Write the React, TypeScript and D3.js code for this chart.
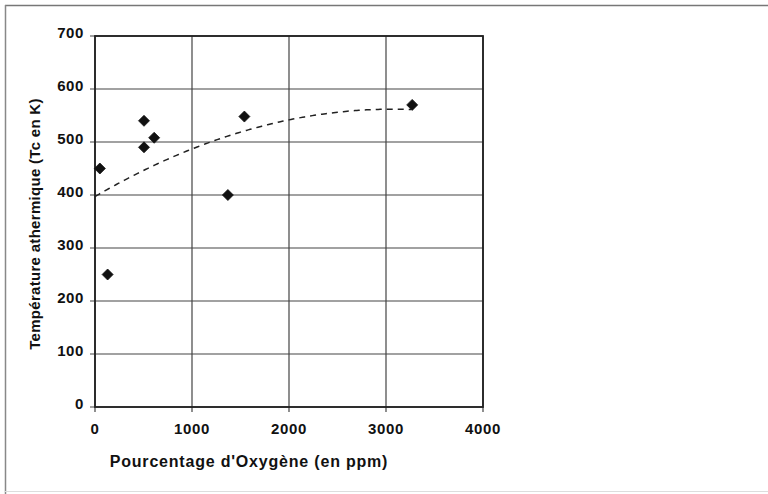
import React, { useEffect, useRef } from 'react';
import * as d3 from 'd3';

// values
const oxygenPpm = [50, 130, 505, 505, 610, 1370, 1540, 3270];
const tempK = [450, 250, 540, 490, 508, 400, 548, 570];
const xTicks = [0, 1000, 2000, 3000, 4000];
const yTicks = [0, 100, 200, 300, 400, 500, 600, 700];
const xTitle = "Pourcentage d'Oxygène (en ppm)";
const yTitle = 'Température athermique (Tc en K)';

// Excel-style order 2 polynomial trendline (least squares)
function quadFit(xs: number[], ys: number[]) {
  const s = (f: (x: number, y: number) => number) => d3.sum(xs, (x, i) => f(x, ys[i]));
  const n = xs.length;
  const sx = s(x => x), sx2 = s(x => x * x), sx3 = s(x => x ** 3), sx4 = s(x => x ** 4);
  const sy = s((x, y) => y), sxy = s((x, y) => x * y), sx2y = s((x, y) => x * x * y);
  const M = [
    [n, sx, sx2, sy],
    [sx, sx2, sx3, sxy],
    [sx2, sx3, sx4, sx2y],
  ];
  for (let i = 0; i < 3; i++) {
    for (let k = i + 1; k < 3; k++) {
      const f = M[k][i] / M[i][i];
      for (let j = i; j < 4; j++) M[k][j] -= f * M[i][j];
    }
  }
  const c = [0, 0, 0];
  for (let i = 2; i >= 0; i--) {
    let v = M[i][3];
    for (let j = i + 1; j < 3; j++) v -= M[i][j] * c[j];
    c[i] = v / M[i][i];
  }
  return (x: number) => c[0] + c[1] * x + c[2] * x * x;
}

export default function App() {
  const svgRef = useRef<SVGSVGElement>(null);

  useEffect(() => {
    if (!svgRef.current) return;
    const svg = d3.select(svgRef.current);
    svg.selectAll('*').remove();

    const font = '"Liberation Sans", Arial, sans-serif';
    const x = d3.scaleLinear().domain([0, 4000]).range([95, 483]);
    const y = d3.scaleLinear().domain([0, 700]).range([407, 36]);

    // outer chart frame (scan: only top/left edges visible)
    svg.append('line').attr('x1', 5).attr('x2', 768).attr('y1', 5.5).attr('y2', 5.5)
      .attr('stroke', '#777').attr('stroke-width', 1.5);
    svg.append('line').attr('x1', 5.5).attr('x2', 5.5).attr('y1', 5).attr('y2', 494)
      .attr('stroke', '#888').attr('stroke-width', 1.5);
    svg.append('line').attr('x1', 5).attr('x2', 768).attr('y1', 491.5).attr('y2', 491.5)
      .attr('stroke', '#ddd').attr('stroke-width', 1);

    const g = svg.append('g');

    // gridlines
    g.selectAll('line.hgrid').data(yTicks).join('line').attr('class', 'hgrid')
      .attr('x1', x(0) - 5).attr('x2', x(4000))
      .attr('y1', d => y(d)).attr('y2', d => y(d))
      .attr('stroke', '#444').attr('stroke-width', 1.2);
    g.selectAll('line.vgrid').data(xTicks).join('line').attr('class', 'vgrid')
      .attr('x1', d => x(d)).attr('x2', d => x(d))
      .attr('y1', y(700)).attr('y2', y(0) + 5)
      .attr('stroke', '#444').attr('stroke-width', 1.2);

    // plot border
    g.append('rect').attr('x', x(0)).attr('y', y(700))
      .attr('width', x(4000) - x(0)).attr('height', y(0) - y(700))
      .attr('fill', 'none').attr('stroke', '#222').attr('stroke-width', 1.8);

    // tick labels
    g.selectAll('text.ytick').data(yTicks).join('text').attr('class', 'ytick')
      .attr('x', 84).attr('y', d => y(d) + 2)
      .attr('text-anchor', 'end').attr('font-family', font).attr('font-weight', 'bold')
      .attr('font-size', 15).attr('letter-spacing', 0.6).attr('fill', '#111').text(d => d);
    g.selectAll('text.xtick').data(xTicks).join('text').attr('class', 'xtick')
      .attr('x', d => x(d)).attr('y', 434)
      .attr('text-anchor', 'middle').attr('font-family', font).attr('font-weight', 'bold')
      .attr('font-size', 15).attr('letter-spacing', 0.6).attr('fill', '#111').text(d => d);

    // axis titles
    g.append('text').attr('x', 249).attr('y', 467).attr('text-anchor', 'middle')
      .attr('font-family', font).attr('font-weight', 'bold').attr('font-size', 16)
      .attr('letter-spacing', 0.8).attr('fill', '#111').text(xTitle);
    g.append('text').attr('transform', 'translate(40,224) rotate(-90)').attr('text-anchor', 'middle')
      .attr('font-family', font).attr('font-weight', 'bold').attr('font-size', 15)
      .attr('letter-spacing', 0.3).attr('fill', '#111').text(yTitle);

    // trendline
    const fit = quadFit(oxygenPpm, tempK);
    const xs = d3.range(0, d3.max(oxygenPpm)! + 1, 20);
    g.append('path').datum(xs)
      .attr('d', d3.line<number>().x(d => x(d)).y(d => y(fit(d))))
      .attr('fill', 'none').attr('stroke', '#222').attr('stroke-width', 1.5)
      .attr('stroke-dasharray', '6,5');

    // points
    g.selectAll('path.pt').data(oxygenPpm).join('path').attr('class', 'pt')
      .attr('transform', (d, i) => `translate(${x(d)},${y(tempK[i])})`)
      .attr('d', 'M0,-5.5L5.5,0L0,5.5L-5.5,0Z')
      .attr('fill', '#111').attr('stroke', '#111').attr('stroke-width', 0.8);
  }, []);

  return (
    <div style={{ position: 'absolute', left: 0, top: 0, width: 768, height: 494, background: '#fff' }}>
      <svg ref={svgRef} width={768} height={494} style={{ display: 'block' }} />
    </div>
  );
}
